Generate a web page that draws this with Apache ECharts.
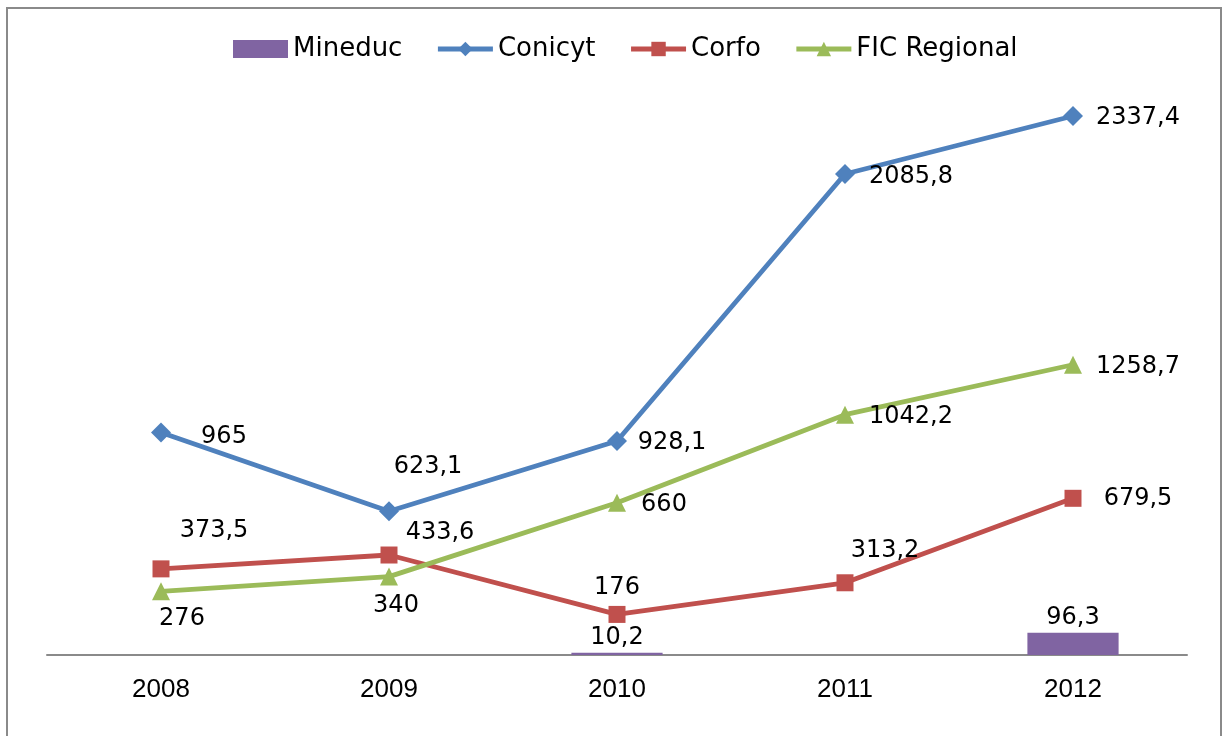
<!DOCTYPE html>
<html>
<head>
<meta charset="utf-8">
<script src="https://cdn.jsdelivr.net/npm/echarts@6/dist/echarts.min.js"></script>
<style>
	html, body { margin: 0; padding: 0; background: #fff; }
	#main { width: 1225px; height: 736px; }
</style>
</head>
<body>
<div id="main"></div>
<script>
// datos
var years = ['2008', '2009', '2010', '2011', '2012'];
var mineduc = [null, null, 10.2, null, 96.3];
var conicyt = [965, 623.1, 928.1, 2085.8, 2337.4];
var corfo = [373.5, 433.6, 176, 313.2, 679.5];
var ficRegional = [276, 340, 660, 1042.2, 1258.7];

// desplazamiento de las etiquetas respecto al punto
var conicytOffsets = [[63, 4], [39, -45], [55, 2], [66, 3], [65, 2]];
var corfoOffsets = [[53, -38], [51, -22], [0, -27], [40, -32], [65, 0]];
var ficOffsets = [[21, 27], [7, 29], [47, 2], [66, 2], [65, 2]];

var font = 'DejaVu Sans';

function fmt(v) {
	return String(v).replace('.', ',');
}

function withLabels(values, offsets) {
	return values.map(function (v, i) {
		return {
			value: v,
			label: { show: true, position: 'inside', offset: offsets[i] }
		};
	});
}

function lineSeries(name, values, offsets, color, symbol, size) {
	return {
		name: name,
		type: 'line',
		data: withLabels(values, offsets),
		symbol: symbol,
		symbolSize: size,
		lineStyle: { color: color, width: 4.8 },
		itemStyle: { color: color },
		label: {
			show: true,
			fontFamily: font,
			fontSize: 24,
			color: '#000',
			formatter: function (p) { return fmt(p.value); }
		},
		z: 3
	};
}

var chart = echarts.init(document.getElementById('main'));
var option = {
	animation: false,
	graphic: [{
		type: 'rect',
		shape: { x: 7, y: 8, width: 1214, height: 800 },
		style: { fill: 'none', stroke: '#8a8a8a', lineWidth: 2 },
		silent: true
	}],
	legend: {
		top: 31,
		left: 228,
		itemWidth: 55,
		itemHeight: 18,
		itemGap: 33,
		lineStyle: { width: 5 },
		textStyle: { fontFamily: font, fontSize: 26, color: '#000' },
		data: [
			{ name: 'Mineduc', icon: 'rect', itemStyle: { borderRadius: 0 } },
			'Conicyt', 'Corfo', 'FIC Regional'
		]
	},
	grid: { left: 47, right: 38, top: 78.5, bottom: 81, containLabel: false },
	xAxis: {
		type: 'category',
		data: years,
		axisLine: { lineStyle: { color: '#8a8a8a', width: 2 } },
		axisTick: { show: false },
		axisLabel: { fontFamily: 'Liberation Sans', fontSize: 26, color: '#000', margin: 22 }
	},
	yAxis: {
		type: 'value',
		min: 0,
		max: 2500,
		show: false,
		splitLine: { show: false }
	},
	series: [
		{
			name: 'Mineduc',
			type: 'bar',
			data: mineduc,
			barWidth: '40%',
			itemStyle: { color: '#8064A2' },
			label: {
				show: true,
				position: 'top',
				distance: 3,
				fontFamily: font,
				fontSize: 24,
				color: '#000',
				formatter: function (p) { return fmt(p.value); }
			}
		},
		lineSeries('Conicyt', conicyt, conicytOffsets, '#4F81BD', 'diamond', 20),
		lineSeries('Corfo', corfo, corfoOffsets, '#C0504D', 'rect', 17),
		lineSeries('FIC Regional', ficRegional, ficOffsets, '#9BBB59', 'triangle', 18)
	]
};
chart.setOption(option);
</script>
</body>
</html>
